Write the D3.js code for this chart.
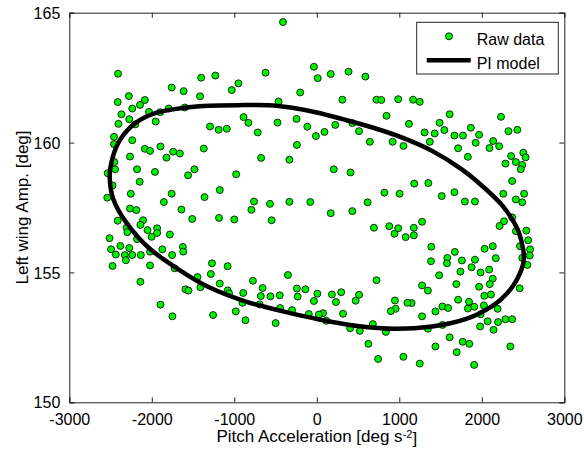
<!DOCTYPE html>
<html><head><meta charset="utf-8">
<script src="https://cdn.jsdelivr.net/npm/d3@7"></script>
<style>body{margin:0;background:#fff}svg{display:block}</style>
</head><body>
<svg id="c" width="584" height="449"></svg>
<script>
const xTicks = [-3000,-2000,-1000,0,1000,2000,3000];
const yTicks = [150,155,160,165];
const xLabel = "Pitch Acceleration [deg s";
const xLabelSup = "-2";
const yLabel = "Left wing Amp. [deg]";
const legendLabels = ["Raw data","PI model"];

const rawX = [-410,-2409,-35,11,385,169,589,-621,-1230,-1402,-1758,-950,-1031,-1614,-1415,-2278,-2084,-2143,-2413,-2237,
-2368,-2034,-1795,-1898,-1600,-2404,-2273,-2201,-1953,-2458,-2458,-2237,-2264,-2084,-2021,-1895,-1822,-1741,-1660,-2454,
-2445,-2535,-2476,-2540,-2179,-1962,-2147,-2255,-2264,-2187,-2413,-2305,-2296,-2106,-2138,-2052,-2002,-1935,-1935,-1781,
-2179,-2512,-2494,-2381,-2436,-2273,-2327,-2314,-2237,-2133,-2476,-2021,-1872,-1754,-2021,-1723,-2138,-1895,-1750,-1759,
-1854,-1641,-1510,-1361,-1560,-1483,-1370,-1623,-1619,-1592,-1556,-1447,-1411,-1284,-1271,-1176,-1081,-1257,-1176,-1185,
-1000,-977,-1294,-1190,-1091,-888,-829,-716,-675,-761,-793,-567,-548,-463,-476,-201,-246,-115,-241,-332,
-332,-79,-11,93,224,310,431,512,643,206,409,169,431,616,819,1004,693,878,942,987,
1077,1176,1176,1276,1181,1352,1514,1668,1795,1917,724,782,845,987,1167,1248,1117,919,1050,1307,
1370,1429,1488,1546,1610,1668,1772,1713,1831,1867,1967,1926,2138,2093,2210,2233,2323,2431,2355,2287,
2413,2503,2531,2490,2472,2368,2260,2413,2513,2490,2368,2269,2215,2413,2540,2562,2463,2585,2581,2490,
2553,2459,2169,2133,2034,1917,1876,1985,2089,2133,2097,1967,2030,2111,2025,2192,1908,1831,1985,1845,
2071,2143,2197,2287,2368,1980,2346,1908,1849,1768,1696,1610,1438,1248,1050,743,625,521,404,679,
837,1276,1347,1523,1438,1523,1592,1713,1691,1741,1759,1673,1582,1578,1483,1347,1384,1388,1276,1149,
1099,947,956,897,724,512,471,296,183,232,318,75,115,25,-35,7,-97,-138,-241,-232,
-300,-350,-449,-445,-499,-562,-657,-679,-693,-774,-892,-901,-865,-982,-1081,-1063];

const rawY = [164.64,162.65,162.92,162.48,162.73,162.64,162.54,162.69,162.58,162.50,162.12,162.28,162.02,161.98,161.78,161.79,161.64,161.45,161.56,161.31,
161.09,161.18,161.31,161.17,161.35,160.72,160.90,160.70,160.81,160.22,159.94,160.09,159.46,159.76,159.68,159.85,159.42,159.65,159.58,159.25,
158.97,158.82,158.35,157.88,158.97,158.87,158.49,158.03,157.46,157.40,156.99,156.72,156.55,157.01,156.83,156.63,156.37,156.70,156.52,156.46,
156.28,156.32,155.89,156.02,155.69,155.94,155.67,155.47,155.67,155.67,155.25,155.80,155.89,155.67,155.27,155.16,154.64,153.76,153.31,158.03,
157.71,157.42,157.06,157.90,158.74,158.97,159.77,155.98,155.80,154.35,154.30,154.82,154.43,154.94,155.35,154.57,155.24,153.36,158.17,157.10,
157.04,158.78,160.62,160.49,160.53,160.98,160.76,160.39,159.41,157.73,157.41,157.64,157.01,161.58,160.77,161.93,160.91,160.61,159.91,159.34,
157.72,157.71,160.25,160.41,160.68,161.65,160.75,160.44,160.03,158.97,158.85,157.28,157.36,157.70,158.07,158.03,156.72,156.78,156.49,156.70,
156.36,156.72,156.43,156.95,158.42,158.44,157.94,158.09,157.73,157.73,161.65,161.64,161.03,161.67,161.65,161.57,160.72,160.03,159.87,160.39,
160.03,160.35,160.76,160.48,161.09,160.27,160.27,159.78,159.45,160.57,160.30,159.99,160.06,159.79,159.86,160.99,160.44,160.49,159.48,159.19,
159.25,159.61,159.43,159.14,158.97,158.52,158.03,157.81,158.03,157.70,157.12,156.97,156.79,156.59,156.61,156.24,156.01,155.89,155.65,155.56,
155.29,154.39,155.55,156.01,155.91,155.49,155.20,155.00,155.11,154.76,154.55,154.45,154.10,154.15,153.73,153.60,153.68,153.61,153.39,153.87,
153.12,152.79,153.09,153.20,153.20,152.92,152.15,151.44,152.25,152.33,151.93,152.50,152.15,151.49,151.75,151.67,152.25,152.75,152.85,153.01,
152.71,153.31,152.83,152.98,153.50,153.69,153.63,153.95,154.55,155.03,155.46,155.79,155.56,155.35,154.89,154.30,155.43,155.99,154.50,153.82,
153.83,153.92,153.60,153.51,154.70,154.14,153.91,154.24,154.15,153.86,153.41,153.43,153.14,153.38,153.90,154.18,153.40,154.35,154.38,154.07,
153.55,154.90,154.12,153.63,153.05,154.08,154.40,154.09,153.77,154.68,154.21,153.83,153.16,153.50,154.31,154.19];

const modelX = [-2510,-2470,-2380,-2200,-1930,-1580,-1300,-950,-590,-318,0,314,675,1036,1397,1758,2030,2255,2436,2510,2481,2345,2120,1803,1397,946,494,43,-409,-860,-1312,-1673,-2035,-2306,-2465];
const modelY = [158.71,159.48,160.13,160.75,161.16,161.35,161.42,161.44,161.44,161.35,161.16,160.90,160.58,160.19,159.68,158.97,158.26,157.55,156.65,155.70,155.11,154.34,153.69,153.20,152.92,152.83,152.94,153.18,153.50,153.88,154.44,155.11,155.94,156.91,157.81];

const W = 584, H = 449;
const m = {l:69.3, r:584-564.3, t:12.7, b:449-402.3};
const svg = d3.select("#c");
const x = d3.scaleLinear().domain([-3000,3000]).range([m.l, W-m.r]);
const y = d3.scaleLinear().domain([150,165]).range([H-m.b, m.t]);
const font = "Liberation Sans, Arial, sans-serif";
const axisCol = "#262626";
const green = "#00f000";

svg.append("defs").append("clipPath").attr("id","clip").append("rect")
  .attr("x",m.l).attr("y",m.t).attr("width",W-m.l-m.r).attr("height",H-m.t-m.b);

const g = svg.append("g").attr("clip-path","url(#clip)");

const pts = rawX.map((v,i)=>[v,rawY[i]]);
g.selectAll("circle.raw").data(pts).join("circle").attr("class","raw")
  .attr("cx",d=>x(d[0])).attr("cy",d=>y(d[1])).attr("r",3.5)
  .attr("fill",green).attr("stroke","#000").attr("stroke-width",0.8);

const mpts = modelX.map((v,i)=>[v,modelY[i]]);
g.append("path").datum(mpts)
  .attr("d", d3.line().x(d=>x(d[0])).y(d=>y(d[1])).curve(d3.curveCardinalClosed.tension(0.2)))
  .attr("fill","none").attr("stroke","#000").attr("stroke-width",4.5);

const tl = 5;
const fmt = d => String(d);
const ax = svg.append("g").attr("transform",`translate(0,${H-m.b})`)
  .call(d3.axisBottom(x).tickValues(xTicks).tickSize(-tl).tickPadding(11).tickFormat(fmt));
const axT = svg.append("g").attr("transform",`translate(0,${m.t})`)
  .call(d3.axisTop(x).tickValues(xTicks).tickSize(-tl).tickFormat(""));
const ay = svg.append("g").attr("transform",`translate(${m.l},0)`)
  .call(d3.axisLeft(y).tickValues(yTicks).tickSize(-tl).tickPadding(9).tickFormat(fmt));
const ayR = svg.append("g").attr("transform",`translate(${W-m.r},0)`)
  .call(d3.axisRight(y).tickValues(yTicks).tickSize(-tl).tickFormat(""));
[ax,axT,ay,ayR].forEach(a=>{
  a.select(".domain").attr("stroke",axisCol).attr("stroke-width",1);
  a.selectAll(".tick line").attr("stroke",axisCol).attr("stroke-width",1);
  a.selectAll("text").attr("font-family",font).attr("font-size","16px").attr("fill","#000");
});
ay.selectAll("text").attr("dy","0.35em");

const xl = svg.append("text").attr("x",(m.l+W-m.r)/2).attr("y",442)
  .attr("text-anchor","middle").attr("font-family",font).attr("font-size","17px").attr("fill","#000");
xl.append("tspan").text(xLabel);
xl.append("tspan").attr("dy","-0.4em").attr("font-size","11px").text(xLabelSup);
xl.append("tspan").attr("dy","0.4em").text("]");

svg.append("text").attr("transform",`translate(28,${(m.t+H-m.b)/2}) rotate(-90)`)
  .attr("text-anchor","middle").attr("font-family",font).attr("font-size","17px").attr("fill","#000")
  .text(yLabel);

const lg = svg.append("g");
lg.append("rect").attr("x",416.7).attr("y",22.3).attr("width",141.6).attr("height",51.7)
  .attr("fill","#fff").attr("stroke",axisCol).attr("stroke-width",1);
lg.append("circle").attr("cx",449).attr("cy",36.3).attr("r",3.5)
  .attr("fill",green).attr("stroke","#000").attr("stroke-width",0.8);
lg.append("line").attr("x1",426.7).attr("x2",470.7).attr("y1",60.3).attr("y2",60.3)
  .attr("stroke","#000").attr("stroke-width",4.5);
lg.selectAll("text.lt").data(legendLabels).join("text").attr("class","lt")
  .attr("x",476.7).attr("y",(d,i)=>[44.8,68.8][i])
  .attr("font-family",font).attr("font-size","16px").attr("fill","#000").text(d=>d);
</script>
</body></html>
